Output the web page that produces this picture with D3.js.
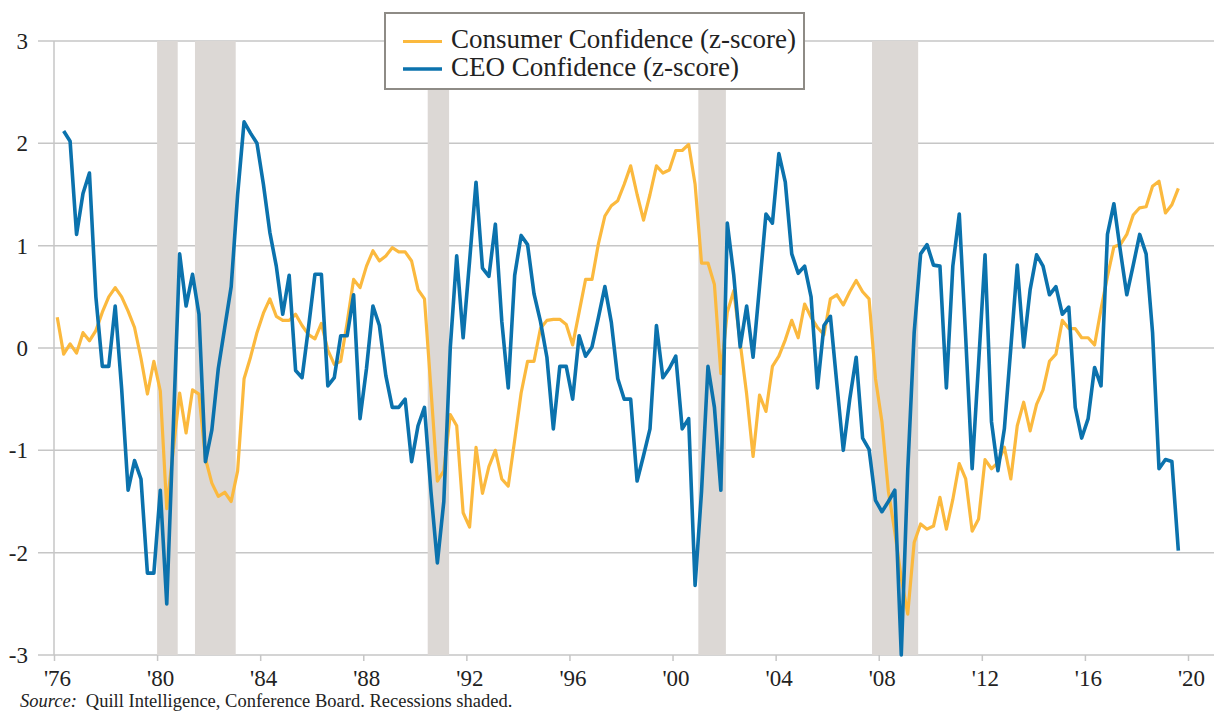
<!DOCTYPE html>
<html>
<head>
<meta charset="utf-8">
<script src="https://cdn.jsdelivr.net/npm/d3@7"></script>
<style>
  body { margin: 0; background: #fff; }
  text { font-family: "Liberation Serif", "Times New Roman", serif; fill: #222; }
</style>
</head>
<body>
<div id="chart"></div>
<script>
// quarterly z-scores; consumer starts 1976 Q1, CEO starts 1976 Q2
const consumerStart = [1976, 1];
const consumerValues = [
  0.3, -0.06, 0.04, -0.05, 0.15, 0.07, 0.17, 0.35, 0.5, 0.59,
  0.5, 0.36, 0.2, -0.1, -0.45, -0.13, -0.42, -1.57, -1.0, -0.44,
  -0.83, -0.41, -0.45, -1.08, -1.32, -1.45, -1.41, -1.5, -1.2, -0.3,
  -0.09, 0.15, 0.34, 0.48, 0.31, 0.27, 0.27, 0.33, 0.22, 0.13,
  0.09, 0.24, -0.02, -0.16, -0.13, 0.25, 0.67, 0.59, 0.8, 0.95,
  0.85, 0.9, 0.98, 0.94, 0.94, 0.85, 0.57, 0.48, -0.4, -1.3,
  -1.2, -0.65, -0.76, -1.61, -1.75, -0.97, -1.42, -1.16, -1.0, -1.28,
  -1.35, -0.9, -0.44, -0.13, -0.13, 0.19, 0.27, 0.28, 0.28, 0.23,
  0.03, 0.35, 0.67, 0.67, 1.02, 1.29, 1.39, 1.44, 1.6, 1.78,
  1.5, 1.25, 1.5, 1.78, 1.71, 1.74, 1.93, 1.93, 1.99, 1.6,
  0.83, 0.83, 0.62, -0.25, 0.35, 0.56, 0.05, -0.45, -1.06, -0.46,
  -0.62, -0.18, -0.08, 0.08, 0.27, 0.1, 0.43, 0.3, 0.2, 0.13,
  0.48, 0.52, 0.42, 0.55, 0.66, 0.55, 0.48, -0.3, -0.72, -1.4,
  -1.8, -2.25, -2.6, -1.9, -1.72, -1.77, -1.74, -1.46, -1.77, -1.48,
  -1.13, -1.28, -1.79, -1.67, -1.09, -1.18, -1.12, -0.97, -1.28, -0.76,
  -0.53, -0.81, -0.55, -0.41, -0.13, -0.06, 0.27, 0.19, 0.19, 0.1,
  0.1, 0.03, 0.38, 0.7, 0.99, 1.01, 1.11, 1.3, 1.37, 1.38,
  1.58, 1.63, 1.32, 1.4, 1.56
];

const ceoStart = [1976, 2];
const ceoValues = [
  2.12, 2.02, 1.11, 1.51, 1.71, 0.5, -0.18, -0.18, 0.41, -0.4,
  -1.39, -1.1, -1.28, -2.2, -2.2, -1.39, -2.5, -0.8, 0.92, 0.41,
  0.72, 0.33, -1.11, -0.8, -0.2, 0.2, 0.6, 1.5, 2.21, 2.1,
  2.0, 1.6, 1.13, 0.8, 0.33, 0.71, -0.22, -0.29, 0.2, 0.72,
  0.72, -0.37, -0.29, 0.12, 0.12, 0.52, -0.69, -0.2, 0.41, 0.22,
  -0.27, -0.58, -0.58, -0.5, -1.11, -0.76, -0.58, -1.4, -2.1, -1.5,
  0.0, 0.9, 0.1, 0.85, 1.62, 0.78, 0.7, 1.21, 0.26, -0.39,
  0.71, 1.1, 1.01, 0.53, 0.26, -0.09, -0.79, -0.18, -0.18, -0.5,
  0.12, -0.08, 0.01, 0.3, 0.6, 0.25, -0.3, -0.5, -0.5, -1.3,
  -1.05, -0.79, 0.22, -0.29, -0.2, -0.08, -0.79, -0.69, -2.32, -1.4,
  -0.18, -0.58, -1.39, 1.22, 0.71, 0.01, 0.41, -0.09, 0.6, 1.31,
  1.22, 1.9, 1.62, 0.92, 0.73, 0.8, 0.5, -0.39, 0.22, 0.31,
  -0.35, -1.0, -0.5, -0.09, -0.88, -0.99, -1.49, -1.6, -1.5, -1.39,
  -3.0, -1.2, 0.15, 0.92, 1.01, 0.81, 0.8, -0.39, 0.8, 1.31,
  0.1, -1.18, -0.15, 0.91, -0.72, -1.2, -0.79, 0.0, 0.81, 0.01,
  0.57, 0.91, 0.8, 0.52, 0.6, 0.33, 0.4, -0.58, -0.88, -0.69,
  -0.19, -0.37, 1.11, 1.41, 0.95, 0.52, 0.81, 1.11, 0.92, 0.15,
  -1.18, -1.09, -1.11, -1.98
];

const recessions = [
  [1980.0, 1980.8], [1981.47, 1983.05], [1990.5, 1991.33],
  [2001.0, 2002.07], [2007.74, 2009.53]
];

const xTickYears = [1976, 1980, 1984, 1988, 1992, 1996, 2000, 2004, 2008, 2012, 2016, 2020];
const yTicks = [-3, -2, -1, 0, 1, 2, 3];

const seriesNames = ["Consumer Confidence (z-score)", "CEO Confidence (z-score)"];
const seriesColors = ["#fbb93e", "#0b72ad"];

function toPoints(start, values) {
  return values.map((v, i) => ({
    t: start[0] + (start[1] - 1 + i) / 4 + 0.125,
    v: v
  }));
}

const width = 1216, height = 720;
const gridLeft = 38, gridRight = 1214;

const svg = d3.select("#chart")
  .append("svg")
  .attr("width", width)
  .attr("height", height);

const x = d3.scaleLinear().domain([1976, 2020]).range([54, 1188]);
const y = d3.scaleLinear().domain([-3, 3]).range([655, 41]);

// gridlines
svg.append("g")
  .selectAll("line")
  .data(yTicks)
  .enter()
  .append("line")
  .attr("x1", gridLeft)
  .attr("x2", gridRight)
  .attr("y1", d => y(d))
  .attr("y2", d => y(d))
  .attr("stroke", "#c6c6c6")
  .attr("stroke-width", 1.5);

// recession shading
svg.append("g")
  .selectAll("rect")
  .data(recessions)
  .enter()
  .append("rect")
  .attr("x", d => x(d[0]))
  .attr("width", d => x(d[1]) - x(d[0]))
  .attr("y", y(3))
  .attr("height", y(-3) - y(3))
  .attr("fill", "#dcd8d5");

// left axis line
svg.append("line")
  .attr("x1", x(1976)).attr("x2", x(1976))
  .attr("y1", y(3)).attr("y2", y(-3))
  .attr("stroke", "#c6c6c6")
  .attr("stroke-width", 1.5);

// y labels
const yAxis = svg.append("g")
  .attr("transform", `translate(${gridLeft},0)`)
  .call(d3.axisLeft(y).tickValues(yTicks).tickSize(0).tickPadding(10).tickFormat(d => String(d)));
yAxis.select(".domain").remove();
yAxis.selectAll("text")
  .style("font-size", "23px")
  .style("font-family", "'Liberation Serif', serif")
  .attr("fill", "#222");

// x axis
const xAxis = svg.append("g")
  .attr("transform", `translate(0,${y(-3)})`)
  .call(d3.axisBottom(x).tickValues(xTickYears).tickSize(6).tickPadding(9)
    .tickFormat(d => "'" + String(d).slice(2)));
xAxis.select(".domain").remove();
xAxis.selectAll("line").attr("stroke", "#c6c6c6").attr("stroke-width", 1.5);
xAxis.selectAll("text")
  .attr("dx", 3)
  .style("font-size", "23px")
  .style("font-family", "'Liberation Serif', serif")
  .attr("fill", "#222");

// lines
const line = d3.line()
  .x(d => x(d.t))
  .y(d => y(d.v));

svg.append("path")
  .datum(toPoints(consumerStart, consumerValues))
  .attr("fill", "none")
  .attr("stroke", seriesColors[0])
  .attr("stroke-width", 3.2)
  .attr("stroke-linejoin", "round")
  .attr("d", line);

svg.append("path")
  .datum(toPoints(ceoStart, ceoValues))
  .attr("fill", "none")
  .attr("stroke", seriesColors[1])
  .attr("stroke-width", 3.6)
  .attr("stroke-linejoin", "round")
  .attr("d", line);

// legend
const legend = svg.append("g");
legend.append("rect")
  .attr("x", 385).attr("y", 13)
  .attr("width", 419).attr("height", 76)
  .attr("fill", "#fff")
  .attr("stroke", "#8e8b86")
  .attr("stroke-width", 2);

seriesNames.forEach((name, i) => {
  const ly = 41.5 + i * 27.5;
  legend.append("line")
    .attr("x1", 403).attr("x2", 442)
    .attr("y1", ly).attr("y2", ly)
    .attr("stroke", seriesColors[i])
    .attr("stroke-width", i === 0 ? 3.2 : 3.6);
  legend.append("text")
    .attr("x", 451)
    .attr("y", ly + 6.5)
    .style("font-size", "27px")
    .text(name);
});

// source note
const note = svg.append("text")
  .attr("x", 20)
  .attr("y", 707)
  .style("font-size", "18.5px");
note.append("tspan")
  .style("font-style", "italic")
  .text("Source:");
note.append("tspan")
  .attr("dx", 9)
  .text("Quill Intelligence, Conference Board. Recessions shaded.");
</script>
</body>
</html>
